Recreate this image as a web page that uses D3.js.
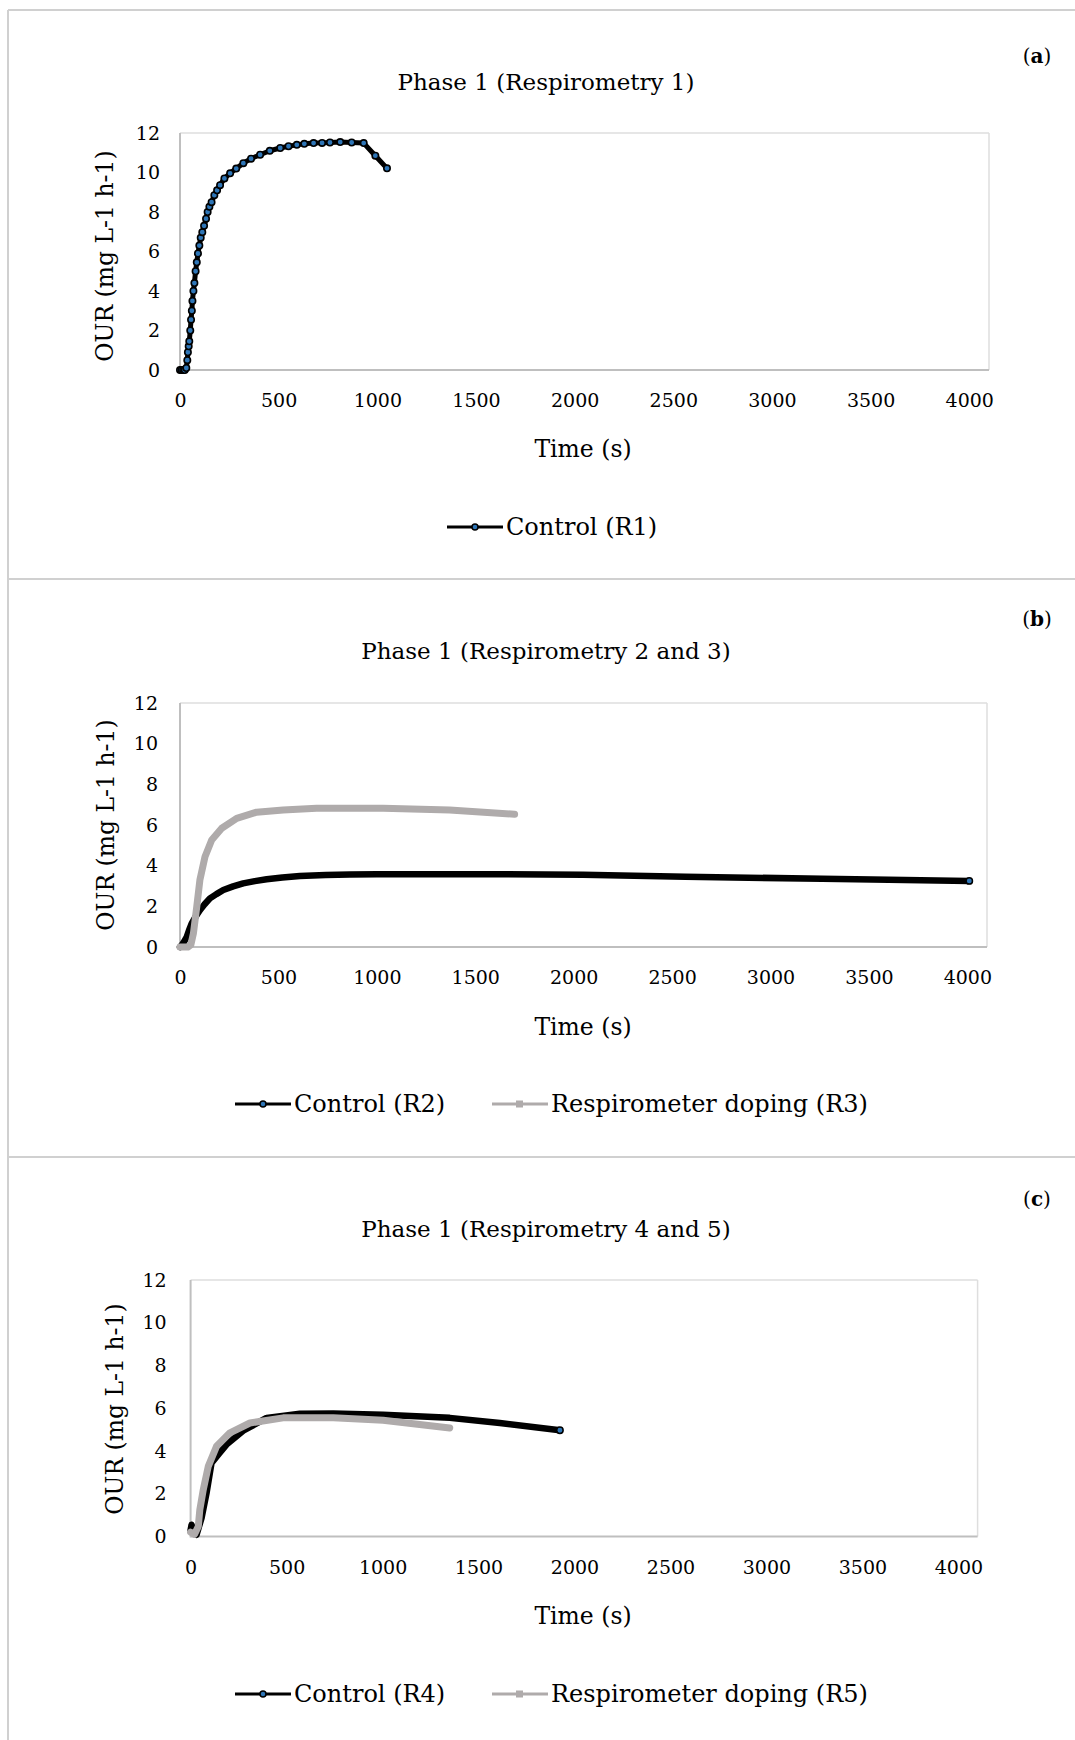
<!DOCTYPE html>
<html>
<head>
<meta charset="utf-8">
<script src="https://cdn.jsdelivr.net/npm/d3@7"></script>
<style>
  body { margin: 0; background: #fff; }
  svg { display: block; }
  text { font-family: "DejaVu Serif", "Liberation Serif", serif; fill: #000; }
</style>
</head>
<body>
<div id="chart"></div>
<script>
// ---- data ----
var xTicks = [0, 500, 1000, 1500, 2000, 2500, 3000, 3500, 4000];
var yTicks = [0, 2, 4, 6, 8, 10, 12];

// (a) control R1
var timeR1 = [0, 8, 16, 24, 32, 37, 40, 44, 47, 52, 56, 60, 63, 68, 73, 79, 85, 91, 98, 105, 113, 122, 132, 140, 149, 160, 174, 188, 203, 225, 254, 285, 321, 360, 406, 455, 508, 550, 592, 630, 677, 720, 760, 812, 870, 931, 990, 1049];
var ourR1  = [0, 0, 0, 0, 0.1, 0.5, 0.9, 1.2, 1.45, 2.0, 2.55, 3.0, 3.5, 4.0, 4.4, 5.0, 5.45, 5.9, 6.3, 6.7, 6.98, 7.3, 7.66, 8.0, 8.26, 8.5, 8.85, 9.1, 9.36, 9.7, 9.96, 10.2, 10.47, 10.7, 10.9, 11.1, 11.24, 11.33, 11.4, 11.45, 11.49, 11.5, 11.52, 11.54, 11.52, 11.49, 10.85, 10.21];

// (b) control R2 / doping R3
var timeR2 = [0, 8, 20, 34, 45, 59, 80, 101, 125, 152, 185, 220, 270, 321, 380, 440, 520, 609, 740, 863, 1000, 1201, 1539, 2047, 2567, 3263, 3600, 4010];
var ourR2  = [0, 0.08, 0.25, 0.49, 0.8, 1.15, 1.5, 1.81, 2.1, 2.39, 2.6, 2.8, 2.98, 3.13, 3.24, 3.33, 3.42, 3.49, 3.54, 3.57, 3.58, 3.58, 3.58, 3.55, 3.45, 3.36, 3.31, 3.25];
var timeR3 = [0, 20, 40, 55, 68, 85, 101, 127, 161, 212, 288, 389, 524, 694, 1032, 1370, 1700];
var ourR3  = [0, 0, 0, 0.1, 0.66, 1.97, 3.29, 4.44, 5.26, 5.84, 6.33, 6.63, 6.74, 6.82, 6.82, 6.74, 6.53];

// (c) control R4 / doping R5
var timeR4 = [0, 5, 15, 31, 57, 83, 109, 150, 187, 274, 396, 569, 743, 1003, 1350, 1611, 1924];
var ourR4  = [0.3, 0.55, 0.3, 0.08, 0.86, 2.03, 3.44, 3.9, 4.3, 4.95, 5.55, 5.74, 5.75, 5.7, 5.55, 5.31, 4.97];
var timeR5 = [0, 20, 40, 48, 66, 92, 135, 205, 309, 482, 743, 1003, 1350];
var ourR5  = [0.2, 0.1, 0.47, 1.25, 2.19, 3.28, 4.22, 4.85, 5.31, 5.55, 5.55, 5.44, 5.08];

var W = 1075, H = 1740;
var svg = d3.select("#chart").append("svg").attr("width", W).attr("height", H);

// panel frames
var frameColor = "#d0d0d0";
svg.append("line").attr("x1", 8).attr("x2", W).attr("y1", 10).attr("y2", 10).attr("stroke", frameColor).attr("stroke-width", 2);
svg.append("line").attr("x1", 8).attr("x2", 8).attr("y1", 10).attr("y2", H).attr("stroke", frameColor).attr("stroke-width", 2);
[579, 1157].forEach(function(yy) {
    svg.append("line").attr("x1", 8).attr("x2", W).attr("y1", yy).attr("y2", yy).attr("stroke", frameColor).attr("stroke-width", 2);
});

function zip(t, v) {
    return t.map(function(d, i) { return [d, v[i]]; });
}

function drawPanel(cfg) {
    var x = d3.scaleLinear().domain([0, 4100]).range([cfg.left, cfg.right]);
    var y = d3.scaleLinear().domain([0, 12]).range([cfg.bottom, cfg.top]);
    var g = svg.append("g");

    // plot area border
    g.append("line").attr("x1", cfg.left).attr("x2", cfg.right).attr("y1", cfg.top).attr("y2", cfg.top)
        .attr("stroke", "#dedede").attr("stroke-width", 1.5);
    g.append("line").attr("x1", cfg.right).attr("x2", cfg.right).attr("y1", cfg.top).attr("y2", cfg.bottom)
        .attr("stroke", "#dedede").attr("stroke-width", 1.5);
    g.append("line").attr("x1", cfg.left).attr("x2", cfg.left).attr("y1", cfg.top).attr("y2", cfg.bottom + 1)
        .attr("stroke", "#bfbfbf").attr("stroke-width", 2);
    g.append("line").attr("x1", cfg.left).attr("x2", cfg.right).attr("y1", cfg.bottom).attr("y2", cfg.bottom)
        .attr("stroke", "#bfbfbf").attr("stroke-width", 2);

    // axes (labels only)
    var ya = g.append("g").attr("transform", "translate(" + cfg.left + ",0)")
        .call(d3.axisLeft(y).tickValues(yTicks).tickSize(0).tickPadding(cfg.yPad).tickFormat(d3.format("d")));
    var xa = g.append("g").attr("transform", "translate(0," + cfg.bottom + ")")
        .call(d3.axisBottom(x).tickValues(xTicks).tickSize(0).tickPadding(24).tickFormat(d3.format("d")));
    [ya, xa].forEach(function(a) {
        a.select(".domain").remove();
        a.selectAll("text").style("font-family", "DejaVu Serif").style("font-size", "19px").attr("fill", "#000");
    });

    var line = d3.line().x(function(d) { return x(d[0]); }).y(function(d) { return y(d[1]); });

    cfg.series.forEach(function(s) {
        var pts = zip(s.t, s.v);
        if (s.kind === "gray") {
            g.append("path").datum(pts).attr("d", line).attr("fill", "none")
                .attr("stroke", "#afabab").attr("stroke-width", 7)
                .attr("stroke-linejoin", "round").attr("stroke-linecap", "round");
        } else if (s.kind === "dense") {
            g.append("path").datum(pts).attr("d", line).attr("fill", "none")
                .attr("stroke", "#000").attr("stroke-width", 6.5)
                .attr("stroke-linejoin", "round").attr("stroke-linecap", "round");
            var last = pts[pts.length - 1];
            g.append("circle").attr("cx", x(last[0])).attr("cy", y(last[1])).attr("r", 3.2)
                .attr("fill", "#2e75b6").attr("stroke", "#000").attr("stroke-width", 1.5);
        } else {
            g.append("path").datum(pts).attr("d", line).attr("fill", "none")
                .attr("stroke", "#000").attr("stroke-width", 5)
                .attr("stroke-linejoin", "round");
            g.selectAll(null).data(pts).enter().append("circle")
                .attr("cx", function(d) { return x(d[0]); }).attr("cy", function(d) { return y(d[1]); })
                .attr("r", 3.2).attr("fill", "#2e75b6").attr("stroke", "#000").attr("stroke-width", 1.6);
        }
    });

    // titles
    g.append("text").attr("x", 546).attr("y", cfg.titleY).attr("dy", "0.35em").attr("text-anchor", "middle")
        .style("font-size", "23px").text(cfg.title);
    var lab = g.append("text").attr("x", 1037).attr("y", cfg.labelY).attr("dy", "0.35em").attr("text-anchor", "middle")
        .style("font-size", "20px");
    lab.append("tspan").text("(");
    lab.append("tspan").style("font-weight", "bold").text(cfg.label);
    lab.append("tspan").text(")");

    g.append("text").attr("transform", "translate(" + cfg.yTitleX + "," + cfg.yTitleY + ") rotate(-90)")
        .attr("dy", "0.35em").attr("text-anchor", "middle").style("font-size", "23.5px").text("OUR (mg L-1 h-1)");
    g.append("text").attr("x", 583).attr("y", cfg.xTitleY).attr("dy", "0.35em").attr("text-anchor", "middle")
        .style("font-size", "23.5px").text("Time (s)");

    // legend
    cfg.legend.forEach(function(l) {
        var ly = cfg.legendY;
        if (l.kind === "gray") {
            g.append("line").attr("x1", l.x).attr("x2", l.x + 56).attr("y1", ly).attr("y2", ly)
                .attr("stroke", "#afabab").attr("stroke-width", 3);
            g.append("rect").attr("x", l.x + 24).attr("y", ly - 3.5).attr("width", 7).attr("height", 7).attr("fill", "#afabab");
        } else {
            g.append("line").attr("x1", l.x).attr("x2", l.x + 56).attr("y1", ly).attr("y2", ly)
                .attr("stroke", "#000").attr("stroke-width", 3);
            g.append("circle").attr("cx", l.x + 28).attr("cy", ly).attr("r", 3)
                .attr("fill", "#2e75b6").attr("stroke", "#000").attr("stroke-width", 1.5);
        }
        g.append("text").attr("x", l.x + 59).attr("y", ly).attr("dy", "0.35em")
            .style("font-size", "24px").text(l.text);
    });
}

drawPanel({
    left: 180, right: 989, top: 133, bottom: 370, yPad: 20,
    title: "Phase 1 (Respirometry 1)", titleY: 82, label: "a", labelY: 56,
    yTitleX: 105, yTitleY: 256, xTitleY: 449,
    series: [{ t: timeR1, v: ourR1, kind: "marked" }],
    legendY: 527,
    legend: [{ x: 447, kind: "black", text: "Control (R1)" }]
});

drawPanel({
    left: 180, right: 987, top: 703, bottom: 947, yPad: 22,
    title: "Phase 1 (Respirometry 2 and 3)", titleY: 651, label: "b", labelY: 619,
    yTitleX: 106, yTitleY: 825, xTitleY: 1027,
    series: [{ t: timeR2, v: ourR2, kind: "dense" }, { t: timeR3, v: ourR3, kind: "gray" }],
    legendY: 1104,
    legend: [{ x: 235, kind: "black", text: "Control (R2)" }, { x: 492, kind: "gray", text: "Respirometer doping (R3)" }]
});

drawPanel({
    left: 190.6, right: 977.6, top: 1280, bottom: 1536.5, yPad: 24,
    title: "Phase 1 (Respirometry 4 and 5)", titleY: 1229, label: "c", labelY: 1199,
    yTitleX: 115, yTitleY: 1409, xTitleY: 1616,
    series: [{ t: timeR4, v: ourR4, kind: "dense" }, { t: timeR5, v: ourR5, kind: "gray" }],
    legendY: 1694,
    legend: [{ x: 235, kind: "black", text: "Control (R4)" }, { x: 492, kind: "gray", text: "Respirometer doping (R5)" }]
});
</script>
</body>
</html>
